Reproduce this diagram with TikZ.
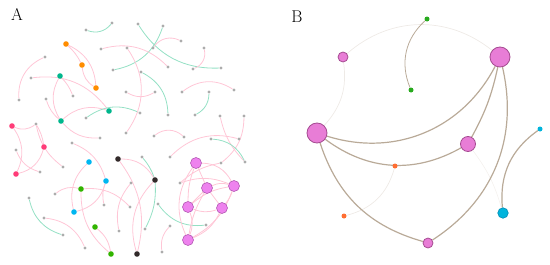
\documentclass[tikz,border=0pt]{standalone}
\usetikzlibrary{backgrounds}
\definecolor{ngray}{RGB}{172,172,172}
\definecolor{epink}{RGB}{255,198,214}
\definecolor{eteal}{RGB}{148,224,196}
\definecolor{corange}{RGB}{255,140,0}
\definecolor{cteal}{RGB}{0,182,140}
\definecolor{cred}{RGB}{255,60,120}
\definecolor{ccyan}{RGB}{0,182,240}
\definecolor{cgreen}{RGB}{50,180,0}
\definecolor{cblack}{RGB}{50,42,42}
\definecolor{amag}{RGB}{238,130,238}
\definecolor{amagb}{RGB}{180,90,180}
\definecolor{bmag}{RGB}{232,125,214}
\definecolor{bmagb}{RGB}{165,75,145}
\definecolor{bcyan}{RGB}{0,180,220}
\definecolor{bcyanb}{RGB}{0,140,180}
\definecolor{borange}{RGB}{255,110,50}
\definecolor{bgreen}{RGB}{40,170,30}
\definecolor{etan}{RGB}{185,170,152}
\definecolor{efaint}{RGB}{238,234,230}
\definecolor{efainter}{RGB}{244,241,238}
\pgfdeclarelayer{edges}
\pgfsetlayers{edges,main}
\tikzset{
  gn/.style={circle,inner sep=0pt,minimum size=3.2pt,fill=ngray},
  an/.style={circle,inner sep=0pt,minimum size=5.6pt,fill=#1},
  am/.style={circle,inner sep=0pt,minimum size=11pt,fill=amag,draw=amagb,line width=0.6pt},
  bn/.style={circle,inner sep=0pt,minimum size=5pt,fill=#1},
  bm/.style={circle,inner sep=0pt,minimum size=#1,fill=bmag,draw=bmagb,line width=0.8pt},
  pk/.style={draw=epink,line width=0.8pt},
  tl/.style={draw=eteal,line width=0.8pt},
  tanl/.style={draw=etan,line width=1.2pt},
  tant/.style={draw=etan,line width=0.8pt},
  faint/.style={draw=efaint,line width=0.7pt},
  fainter/.style={draw=efainter,line width=0.6pt},
  lbl/.style={font=\fontsize{17}{17}\selectfont,inner sep=0pt}
}
\begin{document}
\begin{tikzpicture}[x=1pt,y=-1pt]
\useasboundingbox (0,0) rectangle (550,265);
\node[lbl] (labA) at (17,14) {A};
\node[lbl] (labB) at (297,17) {B};
% ---------- Panel A nodes ----------
\foreach \n/\x/\y in {g1/86/30,g2/112/23,g3/45/57,g4/101/49,g5/127/48,g6/138/24,g7/31/78,g8/19/100,g9/73/96,g10/46/99,g11/113/70,g12/126/92,g13/86/118,g14/36/124,g15/126/133,g16/163/26,g17/181/41,g18/153/48,g19/204/48,g20/168/67,g21/193/69,g22/221/68,g23/141/72,g24/155/92,g25/182/92,g26/209/92,g27/234/90,g28/140/113,g29/168/115,g30/195/115,g31/220/116,g32/244/116,g33/100/138,g34/16/150,g35/72/143,g36/40/172,g37/63/167,g38/55/194,g39/131/183,g40/29/198,g41/104/205,g42/130/207,g43/44/218,g44/63/235,g45/119/231,g46/85/248,g47/154/136,g48/184/137,g49/211/139,g50/239/139,g51/142/157,g52/170/157,g53/221/163,g54/245/162,g55/180/183,g56/158/204,g57/145/229,g58/170/226,g59/206/225,g60/162/252}
  \node[gn] (\n) at (\x,\y) {};
\node[an=corange] (o1) at (66,44) {};
\node[an=corange] (o2) at (82,65) {};
\node[an=corange] (o3) at (96,88) {};
\node[an=cteal] (t1) at (60,76) {};
\node[an=cteal] (t2) at (109,111) {};
\node[an=cteal] (t3) at (61,121) {};
\node[an=cred] (r1) at (12,126) {};
\node[an=cred] (r2) at (44,147) {};
\node[an=cred] (r3) at (16,174) {};
\node[an=ccyan] (c1) at (89,162) {};
\node[an=ccyan] (c2) at (106,181) {};
\node[an=ccyan] (c3) at (74,212) {};
\node[an=cgreen] (gr1) at (81,189) {};
\node[an=cgreen] (gr2) at (95,227) {};
\node[an=cgreen] (gr3) at (111,254) {};
\node[an=cblack] (k1) at (118,159) {};
\node[an=cblack] (k2) at (155,180) {};
\node[an=cblack] (k3) at (137,254) {};
\node[am] (m1) at (196,163) {};
\node[am] (m2) at (207,188) {};
\node[am] (m3) at (234,186) {};
\node[am] (m4) at (188,207) {};
\node[am] (m5) at (222,208) {};
\node[am] (m6) at (188,240) {};
% ---------- Panel B nodes ----------
\node[bm=10pt] (bm1) at (343,57) {};
\node[bn=bgreen] (bG1) at (427,19) {};
\node[bn=bgreen] (bG2) at (411,90) {};
\node[bm=20pt] (bM) at (500,57) {};
\node[bm=20pt] (bL) at (317,133) {};
\node[bn=bcyan] (bC1) at (540,129) {};
\node[bm=15pt] (bmed) at (468,144) {};
\node[bn=borange] (bO1) at (395,166) {};
\node[bn=borange] (bO2) at (344,216) {};
\node[circle,inner sep=0pt,minimum size=10.5pt,fill=bcyan,draw=bcyanb,line width=0.6pt] (bC2) at (503,213) {};
\node[bm=10pt] (bm2) at (428,243) {};
% ---------- Edges ----------
\begin{pgfonlayer}{edges}
% panel A
\draw[tl] (g1) to[bend right=35] (g2);
\draw[pk] (g3) to[bend right=35] (g8);
\draw[pk] (o1) to[bend left=30] (o3);
\draw[pk] (o2) to[bend right=25] (o3);
\draw[pk] (o1) to[bend left=10] (o2);
\draw[pk] (g7) to[bend left=30] (t2);
\draw[pk] (t1) to[bend right=30] (t3);
\draw[pk] (t1) to[bend left=10] (g9);
\draw[pk] (t3) to[bend left=30] (t2);
\draw[pk] (g10) to[bend right=15] (t3);
\draw[tl] (g13) to[bend left=30] (g28);
\draw[tl] (g11) to[bend right=30] (g16);
\draw[pk] (g4) to[bend left=30] (g20);
\draw[tl] (g6) to[bend right=30] (g22);
\draw[pk] (g17) to[bend right=40] (g18);
\draw[pk] (g19) to[bend left=40] (g21);
\draw[pk] (g25) to[bend left=35] (g27);
\draw[tl] (g26) to[bend left=30] (g30);
\draw[tl] (g23) to[bend left=30] (g29);
\draw[pk] (g12) to[bend right=30] (g24);
\draw[pk] (g5) to[bend left=35] (g15);
\draw[pk] (g31) to[bend right=15] (g54);
\draw[pk] (g32) to[bend left=25] (g53);
\draw[pk] (g47) to[bend left=40] (g48);
\draw[tl] (g49) to[bend left=30] (g54);
\draw[pk] (g52) to[bend left=30] (g50);
\draw[tl] (g51) to[bend left=10] (k2);
\draw[tl] (k2) to[bend left=15] (g57);
\draw[tl] (g56) to[bend right=30] (g59);
\draw[pk] (g60) to[bend left=25] (g58);
\draw[pk] (k2) to[bend right=30] (k3);
\draw[pk] (k1) to[bend left=30] (k2);
\draw[pk] (k1) to[bend left=25] (k3);
\draw[pk] (g39) to[bend right=25] (g45);
\draw[pk] (gr1) to[bend left=25] (g42);
\draw[pk] (g38) to[bend left=25] (gr1);
\draw[pk] (gr1) to[bend right=25] (gr3);
\draw[pk] (gr2) to[bend left=20] (gr3);
\draw[pk] (g43) to[bend left=30] (g46);
\draw[tl] (g40) to[bend right=30] (g44);
\draw[pk] (c1) to[bend right=30] (c3);
\draw[pk] (c2) to[bend left=30] (c3);
\draw[pk] (g35) to[bend left=25] (c2);
\draw[pk] (r1) to[bend left=30] (r3);
\draw[pk] (r2) to[bend left=30] (r3);
\draw[pk] (g34) to[bend right=25] (g36);
\draw[pk] (r1) to[bend right=30] (g14);
\draw[pk] (g14) to[bend left=10] (r2);
\draw[pk] (g14) to[bend right=20] (g37);
\draw[pk] (t3) to[bend right=25] (g33);
\draw[pk] (g41) to[bend left=15] (c2);
\draw[pk] (g55) to[bend left=15] (g53);
\draw[pk] (g55) to[bend left=20] (m3);
\draw[pk] (m1) -- (m2);
\draw[pk] (m1) to[bend left=30] (m3);
\draw[pk] (m1) to[bend right=30] (m6);
\draw[pk] (m1) to[bend right=10] (m4);
\draw[pk] (m2) to[bend left=20] (m3);
\draw[pk] (m2) -- (m4);
\draw[pk] (m2) -- (m5);
\draw[pk] (m4) to[bend left=15] (m3);
\draw[pk] (m4) to[bend right=20] (m5);
\draw[pk] (m6) to[bend right=20] (m5);
\draw[pk] (m6) to[bend right=20] (m3);
\draw[pk] (m6) to[bend left=10] (m2);
\draw[pk] (m4) to[bend left=20] (m6);
\draw[pk] (m3) to[bend left=10] (m5);
% panel B
\draw[faint] (bm1) to[bend left=40] (bM);
\draw[faint] (bm1) to[bend left=25] (bL);
\draw[faint] (bO1) to[bend left=30] (bO2);
\draw[fainter] (bmed) to[bend left=10] (bC2);
\draw[tant] (bG1) to[bend right=35] (bG2);
\draw[tanl] (bL) to[bend right=40] (bM);
\draw[tanl] (bL) to[bend right=33] (bmed);
\draw[tanl] (bL) to[bend right=28] (bm2);
\draw[tanl] (bM) to[bend left=8] (bmed);
\draw[tanl] (bM) to[bend left=35] (bm2);
\draw[tanl] (bC1) to[bend right=30] (bC2);
\end{pgfonlayer}
\end{tikzpicture}
\end{document}
